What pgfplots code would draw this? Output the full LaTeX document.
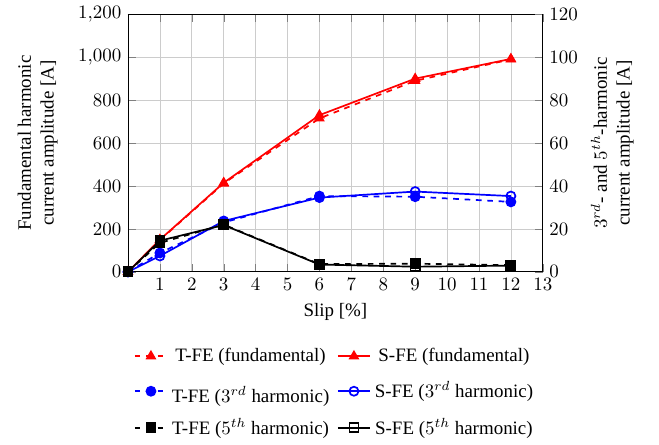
\documentclass[border=0pt]{standalone}
\usepackage{pgfplots}
\pgfplotsset{compat=1.18}
\usepackage{fontspec}
\setmainfont{Liberation Serif}
\begin{document}
\begin{tikzpicture}
\pgfplotsset{every axis plot/.append style={line width=0.9pt, mark size=2.4pt}}
\begin{axis}[
  scale only axis, width=219pt, height=136pt,
  xmin=0, xmax=13, ymin=0, ymax=1200,
  xtick={1,2,3,4,5,6,7,8,9,10,11,12,13},
  ytick={0,200,400,600,800,1000,1200},
  axis y line*=left,
  grid=major, grid style={gray!40},
  xlabel={Slip [\%]},
  ylabel={Fundamental harmonic\\current amplitude [A]},
  ylabel style={align=center, yshift=4pt},
]
\addplot[red, dashed, mark=triangle*, mark options={solid}] coordinates {(0,0) (1,148) (3,412) (6,715) (9,890) (12,990)};
\addplot[red, mark=triangle*] coordinates {(0,0) (1,150) (3,415) (6,730) (9,900) (12,992)};
\end{axis}
\begin{axis}[
  scale only axis, width=219pt, height=136pt,
  xmin=0, xmax=13, ymin=0, ymax=120,
  axis y line*=right, axis x line=none,
  ytick={0,20,40,60,80,100,120},
  ylabel={$3^{rd}$- and $5^{th}$-harmonic\\current amplitude [A]},
  ylabel style={align=center},
  legend columns=2,
  legend style={at={(0.5,-0.265)}, anchor=north, draw=none, /tikz/every even column/.append style={column sep=2pt}, row sep=3pt},
]
\addlegendimage{red, line width=0.9pt, mark size=2.4pt, dashed, mark=triangle*, mark options={solid}}
\addlegendentry{T-FE (fundamental)}
\addlegendimage{red, line width=0.9pt, mark size=2.4pt, mark=triangle*}
\addlegendentry{S-FE (fundamental)}
\addplot[blue, dashed, mark=*, mark options={solid}] coordinates {(0,0) (1,8.8) (3,23) (6,35.3) (9,35) (12,32.6)};
\addlegendentry{\rule{0pt}{13pt}T-FE ($3^{rd}$ harmonic)}
\addplot[blue, mark=o, mark options={solid}] coordinates {(0,0) (1,7.4) (3,23.7) (6,34.6) (9,37.4) (12,35.3)};
\addlegendentry{S-FE ($3^{rd}$ harmonic)}
\addplot[black, dashed, mark=square*, mark options={solid}] coordinates {(0,0) (1,13.5) (3,22) (6,3.6) (9,3.8) (12,3.1)};
\addlegendentry{T-FE ($5^{th}$ harmonic)}
\addplot[black, mark=square, mark options={solid}] coordinates {(0,0) (1,14.5) (3,21.8) (6,3.4) (9,2.4) (12,2.9)};
\addlegendentry{S-FE ($5^{th}$ harmonic)}
\end{axis}
\path ([xshift=-6pt]current bounding box.west) ([xshift=10pt]current bounding box.east);
\end{tikzpicture}
\end{document}
